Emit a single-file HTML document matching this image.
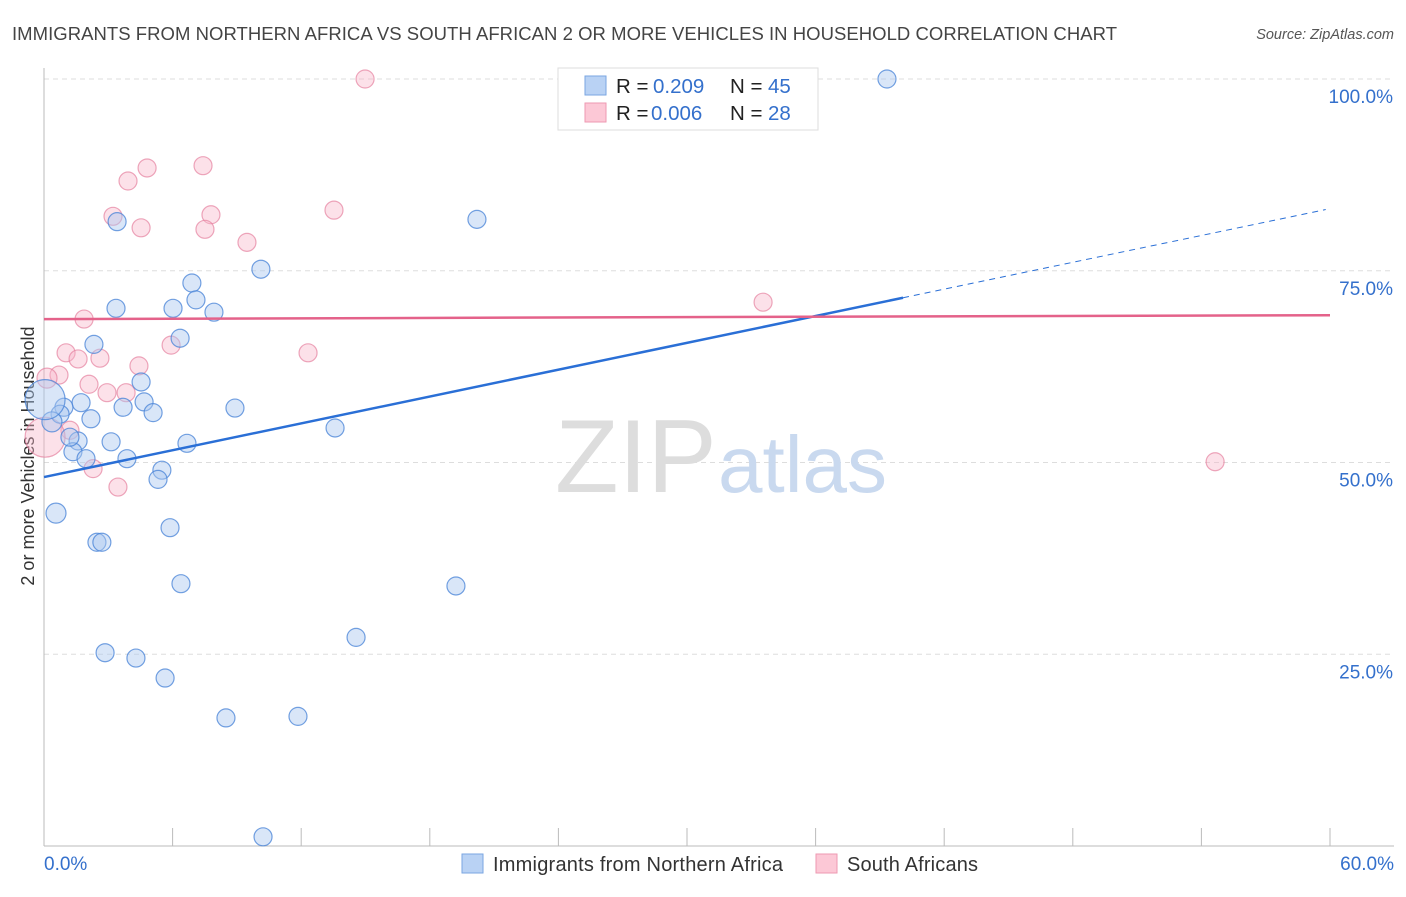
<!DOCTYPE html>
<html><head><meta charset="utf-8">
<style>
body{margin:0;background:#fff;font-family:"Liberation Sans",sans-serif;}
svg text{font-family:"Liberation Sans",sans-serif;}
</style></head>
<body>
<svg id="chart" width="1406" height="892">
<text x="12" y="40" font-size="18.5" fill="#444" textLength="1105">IMMIGRANTS FROM NORTHERN AFRICA VS SOUTH AFRICAN 2 OR MORE VEHICLES IN HOUSEHOLD CORRELATION CHART</text>
<text x="1394" y="39" font-size="14.5" fill="#555" font-style="italic" text-anchor="end">Source: ZipAtlas.com</text>
<text x="34" y="456" font-size="18" fill="#333" text-anchor="middle" transform="rotate(-90 34 456)">2 or more Vehicles in Household</text>
<g id="grid"></g>
<text x="555" y="492" font-size="104" fill="#ddd" font-family="Liberation Serif">ZIP</text>
<text x="718" y="492" font-size="80" fill="#c9d9ef">atlas</text>
<g id="marks"></g>
<g>
<rect x="558" y="68" width="260" height="62" fill="#fff" stroke="#ddd"/>
<rect x="585" y="76" width="21" height="19" fill="#b9d2f4" stroke="#7aa6e2"/>
<rect x="585" y="103" width="21" height="19" fill="#fcc8d6" stroke="#ee99b2"/>
<text y="93" font-size="20.5" fill="#222"><tspan x="616">R =</tspan><tspan x="653" fill="#3470cc">0.209</tspan><tspan x="730">N =</tspan><tspan x="768" fill="#3470cc">45</tspan></text>
<text y="120" font-size="20.5" fill="#222"><tspan x="616">R =</tspan><tspan x="651" fill="#3470cc">0.006</tspan><tspan x="730">N =</tspan><tspan x="768" fill="#3470cc">28</tspan></text>
</g>
<g>
<rect x="462" y="854" width="21" height="19" fill="#b9d2f4" stroke="#7aa6e2"/>
<text x="493" y="871" font-size="20" fill="#333" textLength="290">Immigrants from Northern Africa</text>
<rect x="816" y="854" width="21" height="19" fill="#fcc8d6" stroke="#ee99b2"/>
<text x="847" y="871" font-size="20" fill="#333" textLength="131">South Africans</text>
</g>
</svg>
<script>
const xTicks=[0,6,12,18,24,30,36,42,48,54,60];
const yTicks=[25,50,75,100];
const blueX=[39.33,20.2,3.41,10.12,6.9,7.09,6.02,3.36,7.93,6.35,2.33,4.53,1.73,4.67,3.69,8.91,5.09,0.93,0.75,2.19,0.37,13.58,1.59,3.13,6.67,1.35,1.96,3.87,5.5,5.32,0.56,5.88,2.47,2.7,6.39,19.22,14.56,2.85,4.29,5.65,8.49,11.85,10.22,1.21,0.05];
const blueY=[100,81.7,81.4,75.2,73.4,71.2,70.1,70.1,69.6,66.2,65.4,60.5,57.8,57.9,57.2,57.1,56.5,57.2,56.3,55.7,55.3,54.5,52.8,52.7,52.5,51.4,50.5,50.5,49.0,47.8,43.4,41.5,39.6,39.6,34.2,33.9,27.2,25.2,24.5,21.9,16.7,16.9,1.2,53.3,58.2];
const blueR=[9,9,9,9,9,9,9,9,9,9,9,9,9,9,9,9,9,9,9,9,10,9,9,9,9,9,9,9,9,9,10,9,9,9,9,9,9,9,9,9,9,9,9,9,20];
const pinkX=[14.98,4.81,7.42,3.92,13.53,3.22,7.79,4.53,7.51,9.47,33.55,1.87,5.93,12.32,1.03,2.61,1.59,4.43,0.7,0.14,2.1,2.94,3.83,1.21,0.05,2.29,3.45,54.64];
const pinkY=[100,88.4,88.7,86.7,82.9,82.1,82.3,80.6,80.4,78.7,70.9,68.7,65.3,64.3,64.3,63.6,63.5,62.6,61.4,61.0,60.2,59.1,59.1,54.2,53.3,49.2,46.8,50.1];
const pinkR=[9,9,9,9,9,9,9,9,9,9,9,9,9,9,9,9,9,9,9,10,9,9,9,9,20,9,9,9];
const blueTrend=[48.1,83.1]; const blueSolidEnd=40.08;
const pinkTrend=[68.7,69.2];

const X=v=>44+v/60*1286, Y=v=>846-v/100*767;
const NS="http://www.w3.org/2000/svg";
function mk(tag,attrs,parent){const e=document.createElementNS(NS,tag);for(const k in attrs)e.setAttribute(k,attrs[k]);parent.appendChild(e);return e;}
const grid=document.getElementById('grid'), marks=document.getElementById('marks');
yTicks.forEach(t=>{
 const l=mk('line',{x1:44,x2:1394,y1:Y(t),y2:Y(t),stroke:'#ddd','stroke-dasharray':'5,4'},grid);
 
 
 const tx=mk('text',{x:1393,y:Y(t)+24,'font-size':19,fill:'#3470cc','text-anchor':'end'},grid);
 tx.textContent=t.toFixed(1)+'%';
 
 
});
const ax=mk('line',{x1:44,x2:1394,y1:846,y2:846,stroke:'#bbb'},grid);


const ay=mk('line',{x1:44,x2:44,y1:68,y2:846,stroke:'#bbb'},grid);


xTicks.forEach(t=>{
 const l=mk('line',{x1:X(t),x2:X(t),y1:828,y2:846,stroke:'#bbb'},grid);
 
 
});
[[0,'start',44],[60,'end',1394]].forEach(([t,a,x])=>{
 const tx=mk('text',{x:x,y:870,'font-size':19,fill:'#3470cc','text-anchor':a},grid);
 tx.textContent=t.toFixed(1)+'%';
 
 
});
pinkX.forEach((v,i)=>{
 const c=mk('circle',{cx:X(v),cy:Y(pinkY[i]),r:pinkR[i],fill:'rgba(248,180,200,0.4)',stroke:'rgba(230,130,160,0.7)','stroke-width':1.2},marks);
 
 
});
blueX.forEach((v,i)=>{
 const c=mk('circle',{cx:X(v),cy:Y(blueY[i]),r:blueR[i],fill:'rgba(170,200,240,0.45)',stroke:'rgba(70,130,215,0.75)','stroke-width':1.2},marks);
 
 
});
const bAt=x=>blueTrend[0]+(blueTrend[1]-blueTrend[0])*x/60;
const bl=mk('line',{x1:X(0),y1:Y(bAt(0)),x2:X(blueSolidEnd),y2:Y(bAt(blueSolidEnd)),stroke:'#2a6fd6','stroke-width':2.5},marks);


const bd=mk('line',{x1:X(blueSolidEnd),y1:Y(bAt(blueSolidEnd)),x2:X(59.8),y2:Y(bAt(59.8)),stroke:'#2a6fd6','stroke-width':1,'stroke-dasharray':'6,5'},marks);


const pl=mk('line',{x1:X(0),y1:Y(pinkTrend[0]),x2:X(60),y2:Y(pinkTrend[1]),stroke:'#e4628a','stroke-width':2.5},marks);


</script>
</body></html>
